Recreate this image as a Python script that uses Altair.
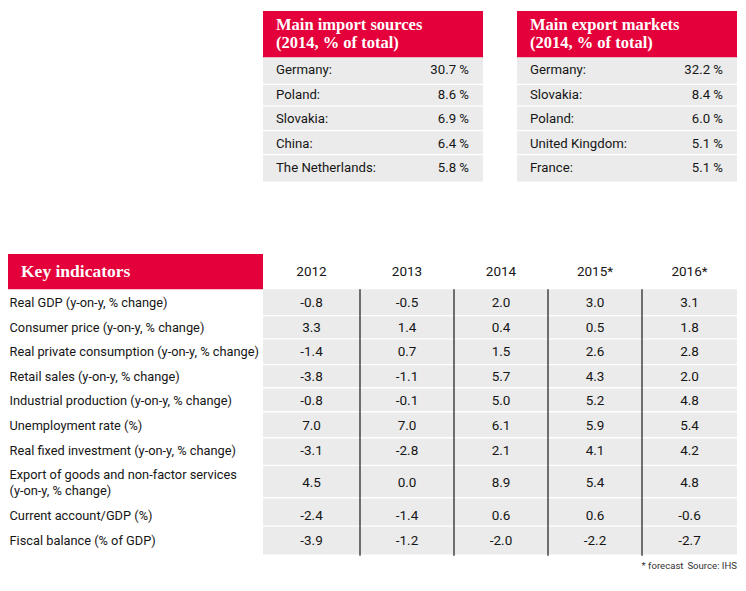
import altair as alt
import pandas as pd

# ---------------- data ----------------
import_countries = ["Germany:", "Poland:", "Slovakia:", "China:", "The Netherlands:"]
import_shares = [30.7, 8.6, 6.9, 6.4, 5.8]
export_countries = ["Germany:", "Slovakia:", "Poland:", "United Kingdom:", "France:"]
export_shares = [32.2, 8.4, 6.0, 5.1, 5.1]

years = ["2012", "2013", "2014", "2015*", "2016*"]
indicators = [
    "Real GDP (y-on-y, % change)",
    "Consumer price (y-on-y, % change)",
    "Real private consumption (y-on-y, % change)",
    "Retail sales (y-on-y, % change)",
    "Industrial production (y-on-y, % change)",
    "Unemployment rate (%)",
    "Real fixed investment (y-on-y, % change)",
    "Export of goods and non-factor services\n(y-on-y, % change)",
    "Current account/GDP (%)",
    "Fiscal balance (% of GDP)",
]
v2012 = [-0.8, 3.3, -1.4, -3.8, -0.8, 7.0, -3.1, 4.5, -2.4, -3.9]
v2013 = [-0.5, 1.4, 0.7, -1.1, -0.1, 7.0, -2.8, 0.0, -1.4, -1.2]
v2014 = [2.0, 0.4, 1.5, 5.7, 5.0, 6.1, 2.1, 8.9, 0.6, -2.0]
v2015 = [3.0, 0.5, 2.6, 4.3, 5.2, 5.9, 4.1, 5.4, 0.6, -2.2]
v2016 = [3.1, 1.8, 2.8, 2.0, 4.8, 5.4, 4.2, 4.8, -0.6, -2.7]
values_by_year = [v2012, v2013, v2014, v2015, v2016]

# ---------------- layout (page pixels) ----------------
RED = "#E4003A"
GRAY = "#EBEBEB"
INK = "#161616"
SANS = "Roboto"
SERIF = "Liberation Serif"
LINE_H = 15.8

panel_x = [263, 517]
panel_w = 220
panel_head = (11, 57.5)
panel_bounds = [57.5, 85, 106.8, 131.2, 155.2, 182.7]
panel_text_y = [69.7, 95.3, 119.2, 144, 168.2]

key_head = (8, 263, 254, 289.3)
col_bounds = [263, 360, 454, 548, 642, 737]
key_bounds = [289.3, 316.3, 339.5, 365.2, 388.4, 412.4, 438.4, 466.1, 498.4, 526.8, 555.8]
key_text_y = [302.6, 328, 351.8, 376.8, 401, 425.8, 450.6, 482.8, 515.5, 540.5]
GAP = 1.3

rects, rules = [], []
titles, left_txt, right_txt, center_txt = [], [], [], []

# top panels
for px, title, names, shares in [
    (panel_x[0], "Main import sources", import_countries, import_shares),
    (panel_x[1], "Main export markets", export_countries, export_shares),
]:
    rects.append(dict(x=px, x2=px + panel_w, y=panel_head[0], y2=panel_head[1], c=RED))
    titles.append(dict(x=px + 13, y=24.5, t=title, s=16.5))
    titles.append(dict(x=px + 13, y=42.8, t="(2014, % of total)", s=16.5))
    for i, (n, v) in enumerate(zip(names, shares)):
        rects.append(dict(x=px, x2=px + panel_w, y=panel_bounds[i], y2=panel_bounds[i + 1] - GAP, c=GRAY))
        left_txt.append(dict(x=px + 13, y=panel_text_y[i], t=n, s=13.2))
        right_txt.append(dict(x=px + panel_w - 14, y=panel_text_y[i], t=f"{v:.1f} %", s=13.2, c=INK))

# key indicators
rects.append(dict(x=key_head[0], x2=key_head[1], y=key_head[2], y2=key_head[3], c=RED))
titles.append(dict(x=21, y=271.5, t="Key indicators", s=17.5))
for j, yr in enumerate(years):
    cx = (col_bounds[j] + col_bounds[j + 1]) / 2
    center_txt.append(dict(x=cx, y=271.5, t=yr, s=13.5))
for i, lab in enumerate(indicators):
    rects.append(dict(x=col_bounds[0], x2=col_bounds[-1], y=key_bounds[i], y2=key_bounds[i + 1] - GAP, c=GRAY))
    nlines = lab.count("\n") + 1
    left_txt.append(dict(x=9.5, y=key_text_y[i] - (nlines - 1) * LINE_H / 2, t=lab, s=12.8))
    for j in range(len(years)):
        cx = (col_bounds[j] + col_bounds[j + 1]) / 2
        center_txt.append(dict(x=cx, y=key_text_y[i], t=f"{values_by_year[j][i]:.1f}", s=13.5))
for xb in col_bounds[1:-1]:
    rules.append(dict(x=xb, y=key_bounds[0], y2=key_bounds[-1]))

right_txt.append(dict(x=683.5, y=565.5, t="* forecast", s=9.6, c="#333333"))
right_txt.append(dict(x=737, y=565.5, t="Source: IHS", s=9.6, c="#333333"))

X = alt.Scale(domain=[8, 738], nice=False, zero=False)
Y = alt.Scale(domain=[8, 583], nice=False, zero=False, reverse=True)
noax = dict(axis=None)

rect_layer = alt.Chart(pd.DataFrame(rects)).mark_rect().encode(
    x=alt.X("x:Q", scale=X, **noax), x2="x2:Q",
    y=alt.Y("y:Q", scale=Y, **noax), y2="y2:Q",
    color=alt.Color("c:N", scale=None),
)
rule_layer = alt.Chart(pd.DataFrame(rules)).mark_rule(color="#1a1a1a", strokeWidth=1.2).encode(
    x=alt.X("x:Q", scale=X, **noax),
    y=alt.Y("y:Q", scale=Y, **noax), y2="y2:Q",
)
title_layer = alt.Chart(pd.DataFrame(titles)).mark_text(
    align="left", baseline="middle", font=SERIF, fontWeight="bold", color="white"
).encode(
    x=alt.X("x:Q", scale=X, **noax), y=alt.Y("y:Q", scale=Y, **noax),
    text="t:N", size=alt.Size("s:Q", scale=None, legend=None),
)
left_layer = alt.Chart(pd.DataFrame(left_txt)).mark_text(
    align="left", baseline="middle", font=SANS, color=INK, lineBreak="\n", lineHeight=LINE_H
).encode(
    x=alt.X("x:Q", scale=X, **noax), y=alt.Y("y:Q", scale=Y, **noax),
    text="t:N", size=alt.Size("s:Q", scale=None, legend=None),
)
right_layer = alt.Chart(pd.DataFrame(right_txt)).mark_text(
    align="right", baseline="middle", font=SANS
).encode(
    x=alt.X("x:Q", scale=X, **noax), y=alt.Y("y:Q", scale=Y, **noax),
    text="t:N", size=alt.Size("s:Q", scale=None, legend=None),
    color=alt.Color("c:N", scale=None),
)
center_layer = alt.Chart(pd.DataFrame(center_txt)).mark_text(
    align="center", baseline="middle", font=SANS, color=INK
).encode(
    x=alt.X("x:Q", scale=X, **noax), y=alt.Y("y:Q", scale=Y, **noax),
    text="t:N", size=alt.Size("s:Q", scale=None, legend=None),
)

chart = alt.layer(
    rect_layer, rule_layer, title_layer, left_layer, right_layer, center_layer
).properties(
    width=730, height=575, autosize="none", padding=0
).configure_view(stroke=None)

chart.save("out.html", embed_options={"renderer": "svg", "actions": False})
